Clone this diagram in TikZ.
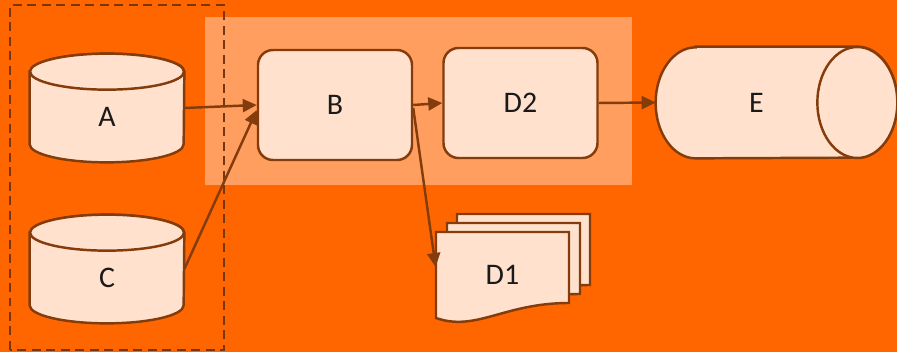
\documentclass[tikz,border=0pt]{standalone}
\usepackage{fontspec}
\setmainfont{Carlito}
\usetikzlibrary{arrows.meta,positioning}

\definecolor{bgorange}{HTML}{FF6600}
\definecolor{panel}{HTML}{FF9E5E}
\definecolor{peach}{HTML}{FFE1CD}
\definecolor{rim}{HTML}{843C0C}
\definecolor{ink}{HTML}{1A1A1A}

\tikzset{
  label/.style={text=ink, inner sep=0pt, font=\fontsize{17}{20}\selectfont},
  box/.style={label, draw=rim, fill=peach, line width=1.4pt, rounded corners=0.3cm,
    minimum width=3.08cm, minimum height=2.2cm},
  outline/.style={draw=rim, fill=peach, line width=1.4pt},
  flow/.style={-{Triangle[length=0.28cm,width=0.26cm]}, draw=rim, line width=1.4pt},
}

\begin{document}
\begin{tikzpicture}
\useasboundingbox (0,0) rectangle (17.94,7.04);

% background and group panels
\fill[bgorange] (0,0) rectangle (17.94,7.04);
\fill[panel] (4.10,3.34) rectangle (12.64,6.70);
\draw[rim!90!black, line width=1.4pt, dash pattern=on 0.18cm off 0.11cm] (0.20,0.04) rectangle (4.48,6.94);

% sources (nodes span the body below the top rim)
\node[label, minimum width=3.08cm, minimum height=1.8cm] (A) at (2.14,4.70) {A};
\node[label, minimum width=3.08cm, minimum height=1.8cm] (C) at (2.14,1.48) {C};
\foreach \db in {A,C} {
  \draw[outline] (\db.north west) -- ([yshift=0.36cm]\db.south west)
    arc[start angle=180, end angle=360, x radius=1.54cm, y radius=0.36cm]
    -- (\db.north east) arc[start angle=0, end angle=180, x radius=1.54cm, y radius=0.36cm] -- cycle;
  \draw[outline] (\db.north) ellipse[x radius=1.54cm, y radius=0.36cm];
  \node[label] at (\db) {\db};
}

% processing
\node[box] (B) at (6.70,4.94) {B};
\node[box] (D2) at (10.41,4.98) {D2};

% target
\node[label, minimum width=4.02cm, minimum height=2.22cm] (E) at (15.13,4.99) {};
\draw[outline] ([xshift=0.8cm]E.north west) -- (E.north east)
  arc[start angle=90, end angle=-90, x radius=0.8cm, y radius=1.11cm]
  -- ([xshift=0.8cm]E.south west)
  arc[start angle=270, end angle=90, x radius=0.8cm, y radius=1.11cm] -- cycle;
\draw[outline] (E.east) ellipse[x radius=0.8cm, y radius=1.11cm];
\node[label] at (E) {E};

% stacked documents
\coordinate (d1) at (10.05,1.54);
\foreach \dx/\dy in {0.42/0.36, 0.22/0.18, 0/0}
  \draw[outline] ([shift={(-1.33+\dx,-0.86+\dy)}]d1) -- ([shift={(-1.33+\dx,0.86+\dy)}]d1)
    -- ([shift={(1.33+\dx,0.86+\dy)}]d1) -- ([shift={(1.33+\dx,-0.56+\dy)}]d1)
    .. controls +(-1.3,0) and +(0.8,-0.28) .. ([shift={(-1.33+\dx,-0.86+\dy)}]d1) -- cycle;
\node[label, minimum width=2.66cm, minimum height=1.72cm] (D1) at (d1) {D1};

% connectors
\draw[flow] ([yshift=0.18cm]A.east) -- (B.west);
\draw[flow] ([yshift=0.18cm]C.east) -- ([yshift=-0.1cm]B.west);
\draw[flow] (B.east) -- (D2.west);
\draw[flow] ([yshift=-0.06cm]B.east) -- ([yshift=0.16cm]D1.west);
\draw[flow] (D2.east) -- (E.west);

\end{tikzpicture}
\end{document}
